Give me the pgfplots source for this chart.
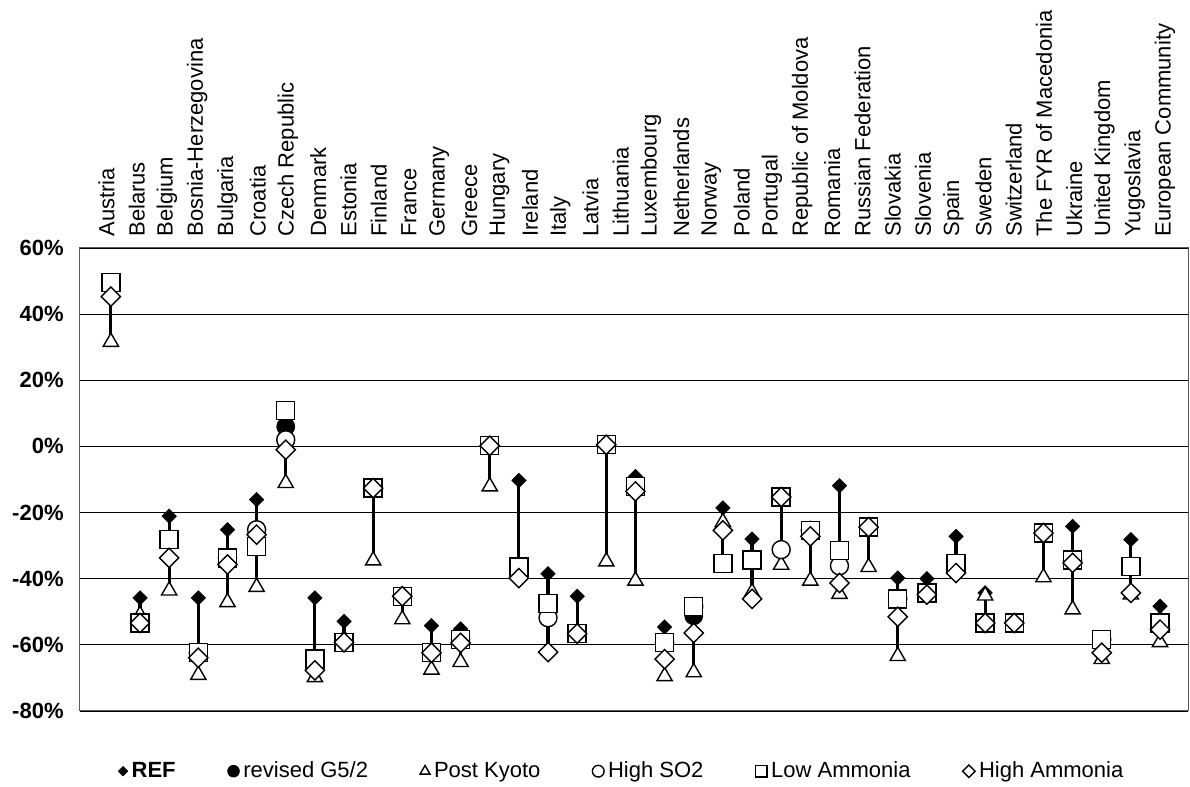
\documentclass[border=0pt]{standalone}
\usepackage{pgfplots}
\pgfplotsset{compat=1.18}
\usepackage{pgfplotstable}
\usepackage{fontspec}
\setmainfont{Liberation Sans}

\pgfplotstableread{
x REF rev PK SO2 LA HA lo hi
0 45.3 49.5 31.6 49.5 49.5 45.3 31.6 49.5
1 -45.8 -53.4 -51.0 -53.4 -53.4 -53.4 -53.4 -45.8
2 -21.1 -28.2 -43.6 -28.2 -28.2 -33.7 -43.6 -21.1
3 -45.8 -62.4 -69.1 -62.4 -62.4 -63.9 -69.1 -45.8
4 -25.2 -33.7 -47.1 -33.7 -33.7 -35.7 -47.1 -25.2
5 -16.1 -30.2 -42.5 -25.2 -30.2 -26.7 -42.5 -16.1
6 6.0 6.0 -11.1 2.0 10.8 -1.0 -11.1 10.8
7 -45.8 -64.3 -69.8 -64.3 -64.3 -67.7 -69.8 -45.8
8 -52.9 -59.2 -58.2 -59.2 -59.2 -59.2 -59.2 -52.9
9 -12.6 -12.6 -34.5 -12.6 -12.6 -12.6 -34.5 -12.6
10 -45.3 -45.3 -52.3 -45.3 -45.3 -45.3 -52.3 -45.3
11 -54.2 -62.4 -67.5 -62.4 -62.4 -62.4 -67.5 -54.2
12 -55.2 -58.4 -65.2 -58.4 -58.4 -59.4 -65.2 -55.2
13 0.2 0.2 -12.1 0.2 0.2 0.2 -12.1 0.2
14 -10.3 -36.4 -36.4 -36.4 -36.4 -39.8 -39.8 -10.3
15 -38.5 -47.5 -47.5 -51.8 -47.5 -62.2 -62.2 -38.5
16 -45.3 -56.6 -56.6 -56.6 -56.6 -56.6 -56.6 -45.3
17 0.5 0.5 -34.8 0.5 0.5 0.5 -34.8 0.5
18 -9.1 -12.1 -40.6 -12.1 -12.1 -13.6 -40.6 -9.1
19 -54.6 -59.2 -69.5 -59.2 -59.2 -64.3 -69.5 -54.6
20 -48.4 -51.2 -68.3 -48.4 -48.4 -56.4 -68.3 -48.4
21 -18.6 -35.4 -22.9 -35.4 -35.4 -25.4 -35.4 -18.6
22 -28.0 -34.4 -44.1 -34.4 -34.4 -46.1 -46.1 -28.0
23 -15.3 -15.3 -35.8 -31.2 -15.3 -15.3 -35.8 -15.3
24 -25.4 -25.4 -40.6 -25.4 -25.4 -27.2 -40.6 -25.4
25 -11.9 -31.4 -44.6 -36.1 -31.4 -41.3 -44.6 -11.9
26 -24.4 -24.4 -36.5 -24.4 -24.4 -24.4 -36.5 -24.4
27 -39.8 -46.1 -63.4 -46.1 -46.1 -51.5 -63.4 -39.8
28 -40.0 -44.3 -44.3 -44.3 -44.3 -44.8 -44.8 -40.0
29 -27.2 -35.4 -35.4 -35.4 -35.4 -38.3 -38.3 -27.2
30 -44.3 -53.4 -45.1 -53.4 -53.4 -53.4 -53.4 -44.3
31 -53.4 -53.4 -53.4 -53.4 -53.4 -53.4 -53.4 -53.4
32 -26.2 -26.2 -39.6 -26.2 -26.2 -26.2 -39.6 -26.2
33 -24.2 -34.4 -49.3 -34.4 -34.4 -35.2 -49.3 -24.2
34 -58.4 -58.4 -64.3 -58.4 -58.4 -62.4 -64.3 -58.4
35 -28.2 -36.3 -44.8 -36.3 -36.3 -44.3 -44.8 -28.2
36 -48.3 -53.4 -59.2 -53.4 -53.4 -55.4 -59.2 -48.3
}\data

\begin{document}
\begin{tikzpicture}
\path[use as bounding box] (-40pt,-38pt) rectangle (555pt,355.5pt);
\begin{axis}[
  scale only axis, width=554pt, height=231.5pt,
  at={(0pt,0pt)}, anchor=south west,
  xmin=-1.06, xmax=36.96, ymin=-80, ymax=60,
  axis line style={black!65, line width=0.5pt},
  ytick={-80,-60,-40,-20,0,20,40,60},
  yticklabels={-80\%,-60\%,-40\%,-20\%,0\%,20\%,40\%,60\%},
  ymajorgrids, grid style={black, line width=0.6pt},
  major tick length=0pt,
  xtick={-0.148,0.890,1.927,2.965,4.003,5.041,6.078,7.116,8.154,9.191,10.229,11.267,12.304,13.342,14.380,15.418,16.455,17.493,18.531,19.568,20.606,21.644,22.681,23.719,24.757,25.795,26.832,27.870,28.908,29.945,30.983,32.021,33.058,34.096,35.134,36.172},
  xticklabels={Austria,Belarus,Belgium,Bosnia-Herzegovina,Bulgaria,Croatia,Czech Republic,Denmark,Estonia,Finland,France,Germany,Greece,Hungary,Ireland,Italy,Latvia,Lithuania,Luxembourg,Netherlands,Norway,Poland,Portugal,Republic of Moldova,Romania,Russian Federation,Slovakia,Slovenia,Spain,Sweden,Switzerland,The FYR of Macedonia,Ukraine,United Kingdom,Yugoslavia,European Community},
  xticklabel pos=right,
  xticklabel style={rotate=90, anchor=west, inner xsep=5.5pt, font=\fontsize{11}{13}\selectfont},
  yticklabel style={font=\bfseries\fontsize{11}{13}\selectfont, inner xsep=8pt},
  legend columns=6,
  legend style={draw=none, fill=none, at={(0.49,-0.13)}, anchor=center,
    font=\fontsize{11}{13}\selectfont, inner sep=0pt,
    /tikz/every even column/.append style={column sep=24pt}},
  legend image code/.code={\draw[#1,/tikz/every mark/.append style={scale=0.65}] plot coordinates {(0pt,0pt)};},
  clip=false,
]
\addplot[forget plot, only marks, mark=none,
  error bars/.cd, y dir=minus, y explicit, error mark=none,
  error bar style={line width=1.6pt, black}]
  table[x=x, y=hi, y error expr=\thisrow{hi}-\thisrow{lo}] {\data};
\addplot[only marks, mark=square*, mark size=2.5pt, mark options={rotate=45, fill=black, draw=black}]
  table[x=x, y=REF] {\data};
\addlegendentry{\textbf{REF}}
\addplot[only marks, mark=*, mark size=4.5pt, mark options={fill=black, draw=black}]
  table[x=x, y=rev] {\data};
\addlegendentry{revised G5/2}
\addplot[only marks, mark=triangle*, mark size=4.4pt, mark options={fill=white, draw=black, line width=0.7pt}]
  table[x=x, y=PK] {\data};
\addlegendentry{Post Kyoto}
\addplot[only marks, mark=*, mark size=4.5pt, mark options={fill=white, draw=black, line width=0.7pt}]
  table[x=x, y=SO2] {\data};
\addlegendentry{High SO2}
\addplot[only marks, mark=square*, mark size=4.5pt, mark options={fill=white, draw=black, line width=0.7pt}]
  table[x=x, y=LA] {\data};
\addlegendentry{Low Ammonia}
\addplot[only marks, mark=square*, mark size=3.4pt, mark options={rotate=45, fill=white, draw=black, line width=0.7pt}]
  table[x=x, y=HA] {\data};
\addlegendentry{High Ammonia}
\end{axis}
\end{tikzpicture}
\end{document}
